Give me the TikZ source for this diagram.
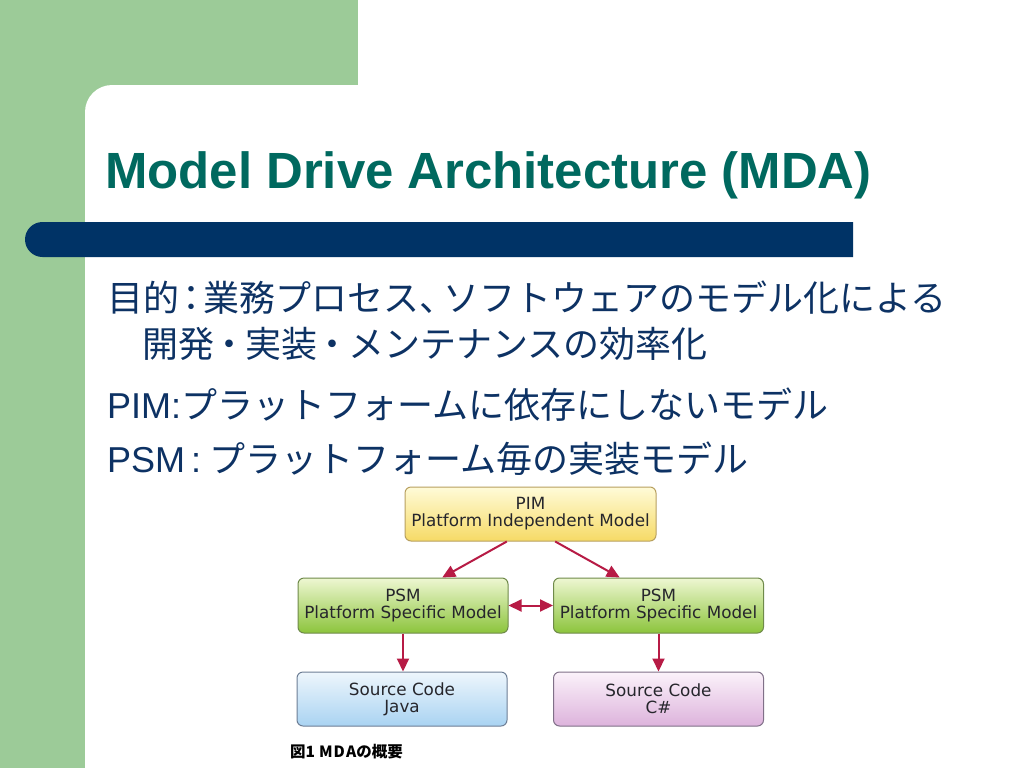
\documentclass[tikz,border=0pt]{standalone}
\usepackage{fontspec}
\setmainfont{Liberation Sans}
\newfontfamily\jp{Noto Sans CJK JP}
\newfontfamily\boxfont{DejaVu Sans}
\usetikzlibrary{arrows.meta,calc}
\definecolor{greenc}{HTML}{9CCB98}
\definecolor{barc}{HTML}{003366}
\definecolor{titlec}{HTML}{00695F}
\definecolor{bodyc}{HTML}{0D3264}
\definecolor{pimtop}{HTML}{FFFBD8}
\definecolor{pimbot}{HTML}{F6DA66}
\definecolor{pimdraw}{HTML}{B8A060}
\definecolor{psmtop}{HTML}{EEF7D2}
\definecolor{psmbot}{HTML}{8CC43C}
\definecolor{psmdraw}{HTML}{6F8A4A}
\definecolor{javatop}{HTML}{EEF6FC}
\definecolor{javabot}{HTML}{A9D3F2}
\definecolor{javadraw}{HTML}{6D7E95}
\definecolor{cstop}{HTML}{FBF2FA}
\definecolor{csbot}{HTML}{DDB3DC}
\definecolor{csdraw}{HTML}{807088}
\definecolor{arrc}{HTML}{B71B45}
\definecolor{boxtext}{HTML}{26262C}
\newcommand{\nc}[1]{\hspace{-6pt}#1\hspace{-6pt}}
\newcommand{\nd}[1]{\hspace{-2.5pt}#1\hspace{-2.5pt}}
\tikzset{
  bodytext/.style={anchor=base west, inner sep=0pt, text=bodyc, font=\fontsize{36}{40}\selectfont},
  box/.style={draw, rounded corners=6pt, line width=1pt, align=center, inner sep=0pt,
    font=\boxfont\fontsize{16.8}{17}\selectfont, text=boxtext},
  pimbox/.style={box, minimum width=251pt, minimum height=54pt, top color=pimtop, bottom color=pimbot, draw=pimdraw},
  psmbox/.style={box, minimum width=210pt, minimum height=55pt, top color=psmtop, bottom color=psmbot, draw=psmdraw},
  javabox/.style={box, minimum width=210pt, minimum height=54pt, top color=javatop, bottom color=javabot, draw=javadraw},
  csbox/.style={box, minimum width=210pt, minimum height=54pt, top color=cstop, bottom color=csbot, draw=csdraw},
  arr/.style={draw=arrc, line width=2pt, -{Triangle[length=13pt,width=12pt]}},
  dblarr/.style={draw=arrc, line width=2pt, {Triangle[length=13pt,width=12pt]}-{Triangle[length=13pt,width=12pt]}},
}
\begin{document}
\begin{tikzpicture}[x=1pt,y=-1pt]
\useasboundingbox (0,0) rectangle (1024,768);
% background
\fill[white] (0,0) rectangle (1024,768);
\fill[greenc] (0,0) rectangle (358,85);
\fill[greenc] (0,0) rectangle (85,768);
\fill[greenc] (85,85) rectangle (120,120);
\fill[white, rounded corners=27pt] (85,85) rectangle (1100,900);
% bar
\begin{scope}
  \clip (0,200) rectangle (853,280);
  \fill[barc, rounded corners=17.5pt] (25,222) rectangle (900,257);
\end{scope}
% title
\node[anchor=base west, inner sep=0pt, text=titlec, font=\fontsize{50.9}{60}\selectfont\bfseries] (title) at (105,188) {Model Drive Architecture (MDA)};
% body
\node[bodytext] (l1) at (107,311) {\jp 目的\nc{：}業務プロセス、\hspace{-12pt}ソフトウェアのモデル化による};
\node[bodytext] (l2) at (142,357) {\jp 開発\nd{・}実装\nd{・}メンテナンスの効率化};
\node[bodytext] (l3) at (107,418) {PIM:\jp プラットフォームに依存にしないモデル};
\node[bodytext] (l4) at (107,472) {PSM\hspace{6pt}:\hspace{8pt}\jp プラットフォーム毎の実装モデル};
% diagram
\node[pimbox] (pim) at (530.5,514) {PIM\\Platform Independent Model};
\node[psmbox] (psmL) at (403,605.5) {PSM\\Platform Specific Model};
\node[psmbox] (psmR) at (658.5,605.5) {PSM\\Platform Specific Model};
\node[javabox] (java) at (402,699) {Source Code\\Java};
\node[csbox] (cs) at (658.5,699) {Source Code\\C\#};
\draw[arr] ($(pim.south west)!0.406!(pim.south east)$) -- ($(psmL.north west)!0.686!(psmL.north east)$);
\draw[arr] ($(pim.south west)!0.598!(pim.south east)$) -- ($(psmR.north west)!0.316!(psmR.north east)$);
\draw[dblarr] (psmL.east) -- (psmR.west);
\draw[arr] (psmL.south) -- (psmL.south |- java.north);
\draw[arr] (psmR.south) -- (psmR.south |- cs.north);
% caption
\node[anchor=base west, inner sep=0pt, text=black, font=\jp\bfseries\fontsize{15.5}{16}\selectfont] (cap) at (290,757) {図1\hspace{4pt}M\hspace{1pt}D\hspace{1pt}Aの概要};
\end{tikzpicture}
\end{document}
